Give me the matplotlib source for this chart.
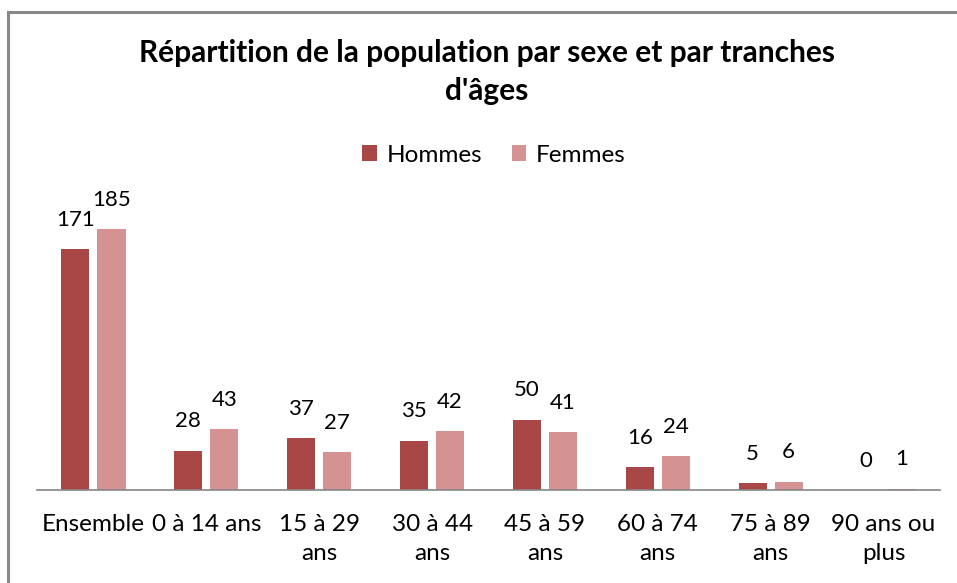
import numpy as np
import matplotlib
matplotlib.use("Agg")
import matplotlib.pyplot as plt
from matplotlib.patches import Rectangle

# Data
categories = ["Ensemble", "0 à 14 ans", "15 à 29\nans", "30 à 44\nans",
              "45 à 59\nans", "60 à 74\nans", "75 à 89\nans", "90 ans ou\nplus"]
hommes = [171, 28, 37, 35, 50, 16, 5, 0]
femmes = [185, 43, 27, 42, 41, 24, 6, 1]

C_H = "#A94646"
C_F = "#D49292"

plt.rcParams["font.family"] = ["Lato", "DejaVu Sans"]

W, H = 957, 583
fig = plt.figure(figsize=(W / 100, H / 100), dpi=100)

# outer chart border (only left and top visible in the crop)
fig.add_artist(Rectangle((8 / W, -0.1), 1.2, (H - 12) / H + 0.1,
                         transform=fig.transFigure, fill=False,
                         edgecolor="#888888", lw=2.2))

ax = fig.add_axes([37 / W, (H - 490) / H, (940 - 37) / W, 282 / H])

x = np.arange(len(categories))
bw = 0.25
off = 0.16
ax.bar(x - off, hommes, bw, color=C_H, label="Hommes")
ax.bar(x + off, femmes, bw, color=C_F, label="Femmes")

for xs, vals in ((x - off, hommes), (x + off, femmes)):
    for xi, v in zip(xs, vals):
        ax.annotate(str(v), xy=(xi, v), xytext=(0, 21),
                    textcoords="offset points", ha="center", va="center",
                    fontsize=16)

ax.set_xlim(-0.5, len(categories) - 0.5)
ax.set_ylim(0, 200)
ax.set_yticks([])
ax.set_xticks(x)
ax.set_xticklabels(categories, fontsize=17.5, linespacing=1.5)
ax.tick_params(axis="x", length=0, pad=17)
for s in ["top", "right", "left"]:
    ax.spines[s].set_visible(False)
ax.spines["bottom"].set_color("#868686")
ax.spines["bottom"].set_linewidth(1.2)

fig.text(487 / W, 1 - 72 / H,
         "Répartition de la population par sexe et par tranches\nd'âges",
         ha="center", va="center", fontsize=21.5, fontweight="bold",
         linespacing=1.45)

fig.legend(loc="center", bbox_to_anchor=(494 / W, 1 - 155 / H), ncol=2,
           frameon=False, fontsize=17.5, handlelength=0.6, handleheight=0.6,
           handletextpad=0.4, columnspacing=1.2)

fig.savefig("out.png", dpi=100, facecolor="white")
